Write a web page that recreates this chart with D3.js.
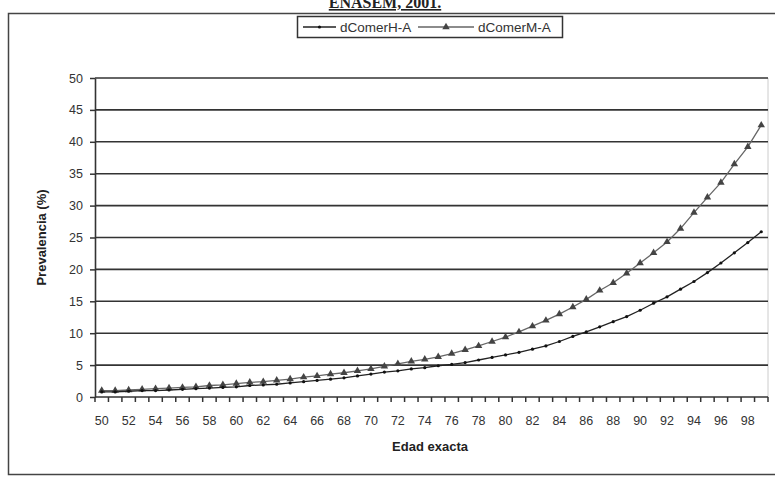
<!DOCTYPE html>
<html>
<head>
<meta charset="utf-8">
<script src="https://cdnjs.cloudflare.com/ajax/libs/d3/7.8.5/d3.min.js"></script>
<style>
  body { margin: 0; background: #fff; }
  svg { display: block; font-family: Arial, "Liberation Sans", sans-serif; }
</style>
</head>
<body>
<svg id="chart" width="775" height="479"></svg>
<script>
// Ages 50..99
const ages = d3.range(50, 100);

// Prevalence (%) by exact age, men
const dComerH = [
  0.8, 0.8, 0.9, 1.0, 1.0, 1.1, 1.2, 1.3, 1.4, 1.5,
  1.6, 1.8, 1.9, 2.0, 2.2, 2.4, 2.6, 2.8, 3.0, 3.3,
  3.6, 3.9, 4.1, 4.4, 4.6, 4.9, 5.1, 5.4, 5.8, 6.2,
  6.6, 7.0, 7.5, 8.0, 8.7, 9.5, 10.2, 11.0, 11.8, 12.6,
  13.6, 14.7, 15.7, 16.9, 18.1, 19.5, 21.0, 22.6, 24.2, 25.9
];

// Prevalence (%) by exact age, women
const dComerM = [
  1.0, 1.0, 1.1, 1.2, 1.3, 1.4, 1.5, 1.6, 1.8, 1.9,
  2.1, 2.3, 2.4, 2.6, 2.8, 3.1, 3.3, 3.6, 3.8, 4.1,
  4.4, 4.8, 5.2, 5.6, 5.9, 6.3, 6.8, 7.4, 8.0, 8.7,
  9.4, 10.2, 11.1, 12.0, 13.0, 14.1, 15.3, 16.7, 17.9, 19.4,
  21.0, 22.6, 24.3, 26.4, 28.9, 31.3, 33.6, 36.5, 39.2, 42.6
];

const yTicks = [0, 5, 10, 15, 20, 25, 30, 35, 40, 45, 50];
const xTickLabels = ages.filter(a => a % 2 === 0);

const seriesNames = ["dComerH-A", "dComerM-A"];

const svg = d3.select("#chart");

// Outer frame
svg.append("rect")
  .attr("x", 8.5).attr("y", 13.5)
  .attr("width", 780).attr("height", 461)
  .attr("fill", "none").attr("stroke", "#444").attr("stroke-width", 1.5);

// Title (runs above the frame)
svg.append("text")
  .attr("x", 385).attr("y", 8)
  .attr("text-anchor", "middle")
  .attr("font-family", "'Liberation Serif', 'Times New Roman', serif")
  .attr("font-weight", "bold").attr("font-size", 16)
  .attr("fill", "#222")
  .attr("text-decoration", "underline")
  .text("ENASEM, 2001.");

const plot = { left: 95, right: 768, top: 78, bottom: 397 };

const x = d3.scaleBand().domain(ages).range([plot.left, plot.right]);
const y = d3.scaleLinear().domain([0, 50]).range([plot.bottom, plot.top]);

// Plot area right edge
svg.append("line")
  .attr("x1", plot.right).attr("x2", plot.right)
  .attr("y1", plot.top).attr("y2", plot.bottom)
  .attr("stroke", "#ccc").attr("stroke-width", 1);

// Horizontal gridlines
svg.append("g")
  .selectAll("line")
  .data(yTicks.filter(t => t > 0))
  .join("line")
  .attr("x1", plot.left).attr("x2", plot.right)
  .attr("y1", d => y(d)).attr("y2", d => y(d))
  .attr("stroke", "#333").attr("stroke-width", 1.6);

// Y axis
const yAxis = svg.append("g")
  .attr("transform", `translate(${plot.left},0)`)
  .call(d3.axisLeft(y).tickValues(yTicks).tickSize(5).tickPadding(7).tickSizeOuter(0));
yAxis.select(".domain").attr("stroke", "#333").attr("stroke-width", 1.6);
yAxis.selectAll(".tick line").attr("stroke", "#333").attr("stroke-width", 1.5);
yAxis.selectAll(".tick text").attr("font-size", 12.5).attr("fill", "#333")
  .attr("font-family", "Arial, 'Liberation Sans', sans-serif");

// X axis: ticks at category boundaries, labels on every second age
const boundaries = ages.map(a => x(a)).concat([plot.right]);
const xAxisG = svg.append("g");
xAxisG.append("line")
  .attr("x1", plot.left).attr("x2", plot.right)
  .attr("y1", plot.bottom).attr("y2", plot.bottom)
  .attr("stroke", "#333").attr("stroke-width", 1.6);
xAxisG.selectAll("line.tk")
  .data(boundaries)
  .join("line").attr("class", "tk")
  .attr("x1", d => d).attr("x2", d => d)
  .attr("y1", plot.bottom).attr("y2", plot.bottom + 5)
  .attr("stroke", "#333").attr("stroke-width", 1.5);
xAxisG.selectAll("text")
  .data(xTickLabels)
  .join("text")
  .attr("x", d => x(d) + x.bandwidth() / 2)
  .attr("y", 425)
  .attr("text-anchor", "middle")
  .attr("font-size", 12.5).attr("fill", "#333")
  .text(d => d);

// Axis titles
svg.append("text")
  .attr("x", 430).attr("y", 451)
  .attr("text-anchor", "middle")
  .attr("font-weight", "bold").attr("font-size", 13).attr("fill", "#222")
  .text("Edad exacta");

svg.append("text")
  .attr("transform", `translate(46,${(plot.top + plot.bottom) / 2}) rotate(-90)`)
  .attr("text-anchor", "middle")
  .attr("font-weight", "bold").attr("font-size", 13).attr("fill", "#222")
  .text("Prevalencia (%)");

// Series
const cx = i => x(ages[i]) + x.bandwidth() / 2;
const line = d3.line().x((d, i) => cx(i)).y(d => y(d));

const tri = d3.symbol().type(d3.symbolTriangle).size(24);

svg.append("path")
  .datum(dComerM)
  .attr("d", line)
  .attr("fill", "none").attr("stroke", "#666").attr("stroke-width", 1.3);
svg.append("g").selectAll("path")
  .data(dComerM)
  .join("path")
  .attr("transform", (d, i) => `translate(${cx(i)},${y(d)})`)
  .attr("d", tri)
  .attr("fill", "#444");

svg.append("path")
  .datum(dComerH)
  .attr("d", line)
  .attr("fill", "none").attr("stroke", "#222").attr("stroke-width", 1.3);
svg.append("g").selectAll("circle")
  .data(dComerH)
  .join("circle")
  .attr("cx", (d, i) => cx(i)).attr("cy", d => y(d))
  .attr("r", 1.6)
  .attr("fill", "#111");

// Legend
const legend = svg.append("g");
legend.append("rect")
  .attr("x", 297.5).attr("y", 16.5).attr("width", 265).attr("height", 21)
  .attr("fill", "#fff").attr("stroke", "#333").attr("stroke-width", 1.5);

const legendItems = [
  { name: seriesNames[0], x0: 303, len: 33, color: "#222", marker: "circle" },
  { name: seriesNames[1], x0: 418, len: 56, color: "#666", marker: "triangle" }
];
legendItems.forEach(it => {
  legend.append("line")
    .attr("x1", it.x0).attr("x2", it.x0 + it.len)
    .attr("y1", 27).attr("y2", 27)
    .attr("stroke", it.color).attr("stroke-width", 1.3);
  if (it.marker === "circle") {
    legend.append("circle").attr("cx", it.x0 + it.len / 2).attr("cy", 27).attr("r", 1.6).attr("fill", "#111");
  } else {
    legend.append("path").attr("transform", `translate(${it.x0 + it.len / 2},27)`).attr("d", tri).attr("fill", "#444");
  }
  legend.append("text")
    .attr("x", it.x0 + it.len + 4).attr("y", 32)
    .attr("font-size", 13.5).attr("fill", "#333")
    .text(it.name);
});
</script>
</body>
</html>
